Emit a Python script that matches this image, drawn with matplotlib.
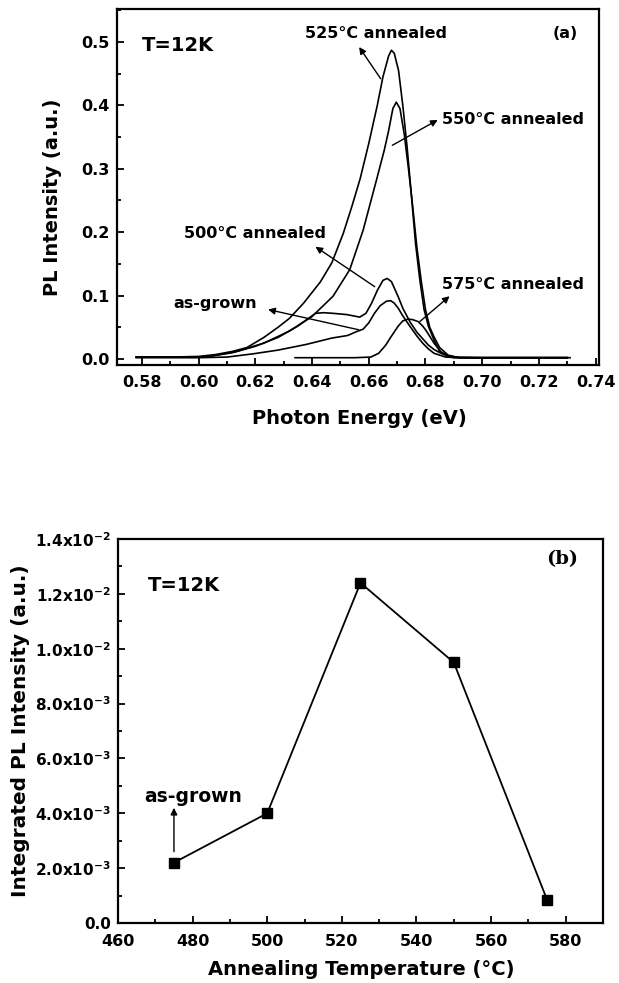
import matplotlib
matplotlib.use("Agg")
import matplotlib.pyplot as plt
from matplotlib.ticker import MultipleLocator, FixedLocator

plt.rcParams['font.family'] = ['DejaVu Sans']
plt.rcParams['font.weight'] = 'bold'
plt.rcParams['mathtext.default'] = 'bf'

# ---------------- data: panel (a) PL spectra ----------------
E_525 = [0.578, 0.590, 0.600, 0.606, 0.612, 0.617, 0.623, 0.628, 0.632, 0.637, 0.643, 0.647,
         0.651, 0.654, 0.657, 0.660, 0.663, 0.665, 0.667, 0.668, 0.669, 0.6705, 0.672, 0.6735,
         0.675, 0.6765, 0.678, 0.6795, 0.681, 0.683, 0.685, 0.688, 0.692, 0.700, 0.730]
I_525 = [0.003, 0.003, 0.004, 0.007, 0.012, 0.018, 0.034, 0.050, 0.064, 0.088, 0.122, 0.152,
         0.198, 0.240, 0.285, 0.340, 0.400, 0.445, 0.478, 0.487, 0.482, 0.455, 0.400, 0.335,
         0.260, 0.182, 0.125, 0.078, 0.052, 0.030, 0.012, 0.005, 0.002, 0.002, 0.002]

E_550 = [0.578, 0.590, 0.600, 0.605, 0.6135, 0.623, 0.632, 0.640, 0.6474, 0.6533, 0.658, 0.6627,
         0.6655, 0.667, 0.6685, 0.6697, 0.671, 0.6725, 0.674, 0.6755, 0.677, 0.6785, 0.680,
         0.6815, 0.683, 0.685, 0.688, 0.692, 0.700, 0.730]
I_550 = [0.003, 0.003, 0.003, 0.005, 0.012, 0.025, 0.044, 0.067, 0.099, 0.141, 0.203, 0.282,
         0.330, 0.360, 0.395, 0.405, 0.395, 0.355, 0.300, 0.240, 0.175, 0.123, 0.078,
         0.050, 0.035, 0.018, 0.006, 0.002, 0.002, 0.002]

E_500 = [0.578, 0.590, 0.600, 0.605, 0.612, 0.620, 0.628, 0.635, 0.6412, 0.644, 0.6474, 0.6523,
         0.6568, 0.659, 0.661, 0.663, 0.665, 0.6665, 0.668, 0.6704, 0.672, 0.6746, 0.677, 0.6788,
         0.681, 0.683, 0.685, 0.6871, 0.6896, 0.700, 0.730]
I_500 = [0.003, 0.003, 0.003, 0.005, 0.010, 0.020, 0.034, 0.052, 0.072, 0.073, 0.072, 0.070,
         0.066, 0.072, 0.088, 0.108, 0.124, 0.127, 0.122, 0.098, 0.080, 0.058, 0.042, 0.033,
         0.022, 0.015, 0.010, 0.006, 0.003, 0.002, 0.002]

E_asg = [0.578, 0.600, 0.610, 0.619, 0.628, 0.638, 0.647, 0.6525, 0.6556, 0.658, 0.660, 0.662,
         0.664, 0.6662, 0.6677, 0.669, 0.6704, 0.672, 0.6746, 0.677, 0.679, 0.681, 0.683, 0.6871,
         0.692, 0.730]
I_asg = [0.002, 0.002, 0.003, 0.008, 0.014, 0.023, 0.033, 0.037, 0.043, 0.047, 0.057, 0.072,
         0.084, 0.091, 0.092, 0.088, 0.080, 0.068, 0.051, 0.036, 0.025, 0.016, 0.009, 0.003,
         0.002, 0.002]

E_575 = [0.634, 0.645, 0.655, 0.6607, 0.6635, 0.666, 0.6677, 0.6704, 0.672, 0.6739, 0.6755,
         0.6774, 0.679, 0.6802, 0.683, 0.6857, 0.688, 0.690, 0.700, 0.731]
I_575 = [0.002, 0.002, 0.002, 0.003, 0.009, 0.022, 0.034, 0.052, 0.060, 0.063, 0.062,
         0.059, 0.052, 0.045, 0.025, 0.010, 0.004, 0.002, 0.002, 0.002]

xticks_a = [0.58, 0.60, 0.62, 0.64, 0.66, 0.68, 0.70, 0.72, 0.74]
xticklabels_a = ['0.58', '0.60', '0.62', '0.64', '0.66', '0.68', '0.70', '0.72', '0.74']
yticks_a = [0.0, 0.1, 0.2, 0.3, 0.4, 0.5]
yticklabels_a = ['0.0', '0.1', '0.2', '0.3', '0.4', '0.5']

# ---------------- data: panel (b) integrated PL ----------------
anneal_T = [475, 500, 525, 550, 575]
integ_PL = [2.2e-3, 4.0e-3, 1.24e-2, 9.5e-3, 0.85e-3]

xticks_b = [460, 480, 500, 520, 540, 560, 580]
xticklabels_b = ['460', '480', '500', '520', '540', '560', '580']
yticks_b = [0.0, 2e-3, 4e-3, 6e-3, 8e-3, 1.0e-2, 1.2e-2, 1.4e-2]
yticklabels_b = ['0.0', r'2.0x10$^{-3}$', r'4.0x10$^{-3}$', r'6.0x10$^{-3}$', r'8.0x10$^{-3}$',
                 r'1.0x10$^{-2}$', r'1.2x10$^{-2}$', r'1.4x10$^{-2}$']

# ---------------- figure ----------------
W, H = 619, 983
fig = plt.figure(figsize=(W / 100, H / 100), dpi=100)

def axrect(l, t, r, b):
    return [l / W, 1 - b / H, (r - l) / W, (b - t) / H]

axA = fig.add_axes(axrect(117, 9, 599, 365))
axB = fig.add_axes(axrect(118, 539, 603, 923))

for ax in (axA, axB):
    for s in ax.spines.values():
        s.set_linewidth(1.6)
    ax.tick_params(which='both', direction='in', width=1.3, top=False, right=False)
    ax.tick_params(which='major', length=5)
    ax.tick_params(which='minor', length=3)

lw = 1.2
for E, I in [(E_525, I_525), (E_550, I_550), (E_500, I_500), (E_asg, I_asg), (E_575, I_575)]:
    axA.plot(E, I, color='black', lw=lw)

axA.set_xlim(0.5712, 0.7412)
axA.set_ylim(-0.0095, 0.552)
axA.xaxis.set_major_locator(FixedLocator(xticks_a))
axA.set_xticklabels(xticklabels_a)
axA.xaxis.set_minor_locator(MultipleLocator(0.01))
axA.yaxis.set_major_locator(FixedLocator(yticks_a))
axA.set_yticklabels(yticklabels_a)
axA.yaxis.set_minor_locator(MultipleLocator(0.05))
axA.tick_params(axis='x', labelsize=11.5, pad=7)
axA.tick_params(axis='y', labelsize=11.5, pad=5)

axA.set_xlabel('Photon Energy (eV)', fontsize=14, fontweight='bold')
axA.set_ylabel('PL Intensity (a.u.)', fontsize=14, fontweight='bold')
axA.xaxis.set_label_coords(0.502, -0.149)
axA.xaxis.label.set_va('center')
axA.yaxis.set_label_coords(-0.133, 0.47)
axA.yaxis.label.set_va('center')

arrow = dict(arrowstyle='-|>', color='black', lw=1.0, mutation_scale=10, shrinkA=0, shrinkB=0)
fs_ann = 11.5
axA.text(0.580, 0.495, 'T=12K', fontsize=14, fontweight='bold', va='center', ha='left')
axA.text(0.7292, 0.513, '(a)', fontsize=11.5, fontweight='bold', va='center', ha='center')
axA.text(0.6625, 0.513, '525°C annealed', fontsize=fs_ann, fontweight='bold', va='center', ha='center')
axA.annotate('', xy=(0.6566, 0.492), xytext=(0.6642, 0.442), arrowprops=arrow)
axA.text(0.6857, 0.377, '550°C annealed', fontsize=fs_ann, fontweight='bold', va='center', ha='left',
         clip_on=True)
axA.annotate('', xy=(0.6843, 0.377), xytext=(0.6683, 0.337), arrowprops=arrow)
axA.text(0.620, 0.198, '500°C annealed', fontsize=fs_ann, fontweight='bold', va='center', ha='center')
axA.annotate('', xy=(0.6412, 0.177), xytext=(0.6621, 0.114), arrowprops=arrow)
axA.text(0.6857, 0.117, '575°C annealed', fontsize=fs_ann, fontweight='bold', va='center', ha='left',
         clip_on=True)
axA.annotate('', xy=(0.6885, 0.099), xytext=(0.678, 0.059), arrowprops=arrow)
axA.text(0.606, 0.088, 'as-grown', fontsize=fs_ann, fontweight='bold', va='center', ha='center')
axA.annotate('', xy=(0.6245, 0.078), xytext=(0.6565, 0.046), arrowprops=arrow)

# panel (b)
axB.plot(anneal_T, integ_PL, color='black', lw=1.3, marker='s', markersize=6.5,
         markerfacecolor='black', markeredgecolor='black')
axB.set_xlim(460, 590)
axB.set_ylim(0, 1.4e-2)
axB.xaxis.set_major_locator(FixedLocator(xticks_b))
axB.set_xticklabels(xticklabels_b)
axB.xaxis.set_minor_locator(MultipleLocator(10))
axB.yaxis.set_major_locator(FixedLocator(yticks_b))
axB.set_yticklabels(yticklabels_b)
axB.yaxis.set_minor_locator(MultipleLocator(1e-3))
axB.tick_params(axis='x', labelsize=11.5, pad=8)
axB.tick_params(axis='y', labelsize=11, pad=5)

axB.set_xlabel('Annealing Temperature (°C)', fontsize=14, fontweight='bold')
axB.set_ylabel('Integrated PL Intensity (a.u.)', fontsize=14.5, fontweight='bold')
axB.xaxis.set_label_coords(0.502, -0.122)
axB.xaxis.label.set_va('center')
axB.yaxis.set_label_coords(-0.202, 0.5)
axB.yaxis.label.set_va('center')

axB.text(468, 12.3e-3, 'T=12K', fontsize=14, fontweight='bold', va='center', ha='left')
axB.text(579.1, 13.27e-3, '(b)', fontsize=14, fontweight='bold', va='center', ha='center',
         family='DejaVu Serif')
axB.text(480.2, 4.6e-3, 'as-grown', fontsize=13.5, fontweight='bold', va='center', ha='center')
axB.annotate('', xy=(475, 4.2e-3), xytext=(475, 2.6e-3), arrowprops=arrow)

fig.savefig('out.png', dpi=100)
